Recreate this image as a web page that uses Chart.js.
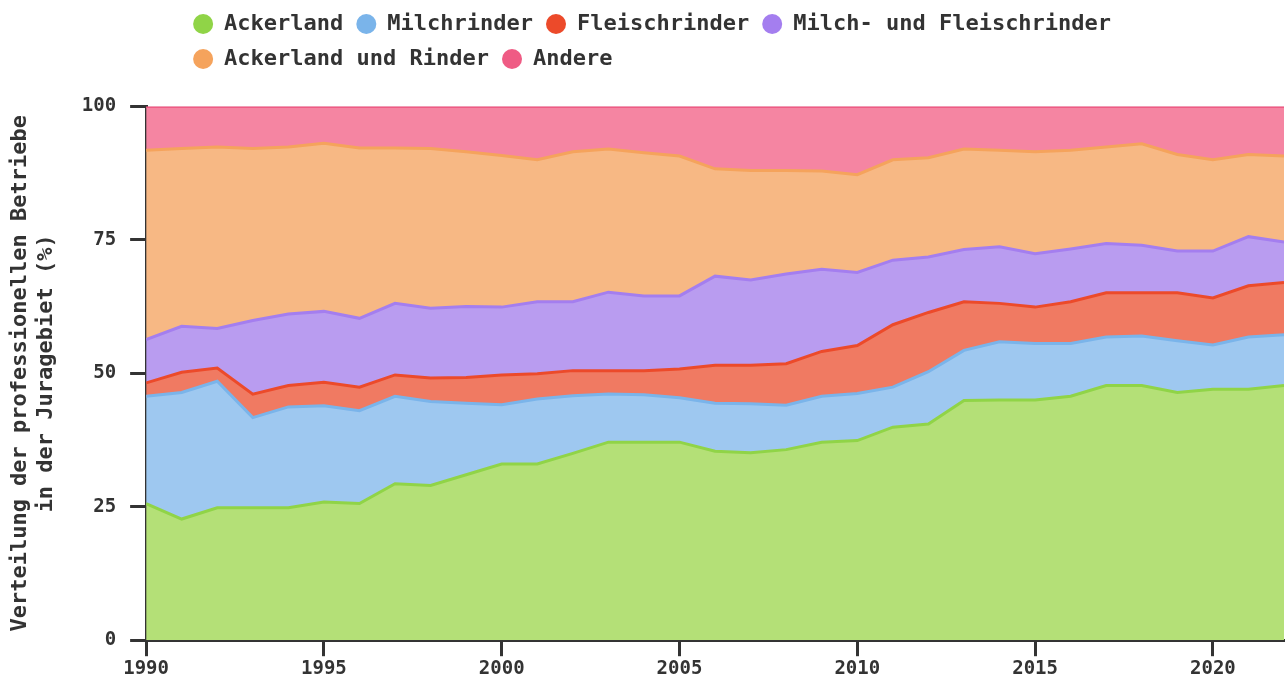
<!DOCTYPE html>
<html>
<head>
<meta charset="utf-8">
<script src="https://cdn.jsdelivr.net/npm/chart.js@4.4.1/dist/chart.umd.min.js"></script>
<style>
  html, body { margin: 0; padding: 0; background: #fff; }
  #wrap { width: 1287px; height: 681px; }
</style>
</head>
<body>
<div id="wrap"><canvas id="chart"></canvas></div>
<script>
// Anteile der Betriebstypen (%), 1990 - 2022
var years = [1990, 1991, 1992, 1993, 1994, 1995, 1996, 1997, 1998, 1999,
             2000, 2001, 2002, 2003, 2004, 2005, 2006, 2007, 2008, 2009,
             2010, 2011, 2012, 2013, 2014, 2015, 2016, 2017, 2018, 2019,
             2020, 2021, 2022];
var ackerland = [25.6, 22.7, 24.8, 24.8, 24.8, 25.9, 25.6, 29.3, 29.0, 31.0,
                 33.0, 33.0, 35.0, 37.1, 37.1, 37.1, 35.4, 35.1, 35.7, 37.1,
                 37.4, 39.9, 40.5, 44.9, 45.0, 45.0, 45.7, 47.7, 47.7, 46.4,
                 47.0, 47.0, 47.7];
var milchrinder = [20.1, 23.7, 23.7, 16.9, 18.9, 18.0, 17.4, 16.4, 15.7, 13.4,
                   11.1, 12.2, 10.8, 9.0, 8.9, 8.3, 9.0, 9.2, 8.3, 8.6,
                   8.8, 7.5, 9.8, 9.4, 10.9, 10.6, 9.9, 9.1, 9.3, 9.7,
                   8.3, 9.8, 9.5];
var fleischrinder = [2.5, 3.8, 2.5, 4.4, 4.0, 4.4, 4.4, 4.0, 4.4, 4.8,
                     5.6, 4.7, 4.7, 4.4, 4.5, 5.4, 7.1, 7.2, 7.8, 8.4,
                     9.0, 11.7, 11.1, 9.1, 7.2, 6.8, 7.8, 8.3, 8.1, 9.0,
                     8.8, 9.6, 9.8];
var milchFleisch = [8.1, 8.6, 7.4, 13.8, 13.4, 13.3, 12.9, 13.4, 13.1, 13.3,
                    12.7, 13.5, 12.9, 14.7, 14.0, 13.7, 16.7, 16.0, 16.8, 15.4,
                    13.7, 12.1, 10.4, 9.8, 10.6, 10.0, 9.9, 9.2, 8.9, 7.8,
                    8.8, 9.2, 7.6];
var ackerRinder = [35.5, 33.3, 34.0, 32.2, 31.3, 31.5, 31.9, 29.1, 29.9, 29.0,
                   28.4, 26.6, 28.1, 26.8, 26.8, 26.2, 20.1, 20.5, 19.4, 18.4,
                   18.3, 18.8, 18.6, 18.8, 18.1, 19.1, 18.5, 18.1, 19.0, 18.1,
                   17.1, 15.4, 16.1];
var andere = [8.2, 7.9, 7.6, 7.9, 7.6, 6.9, 7.8, 7.8, 7.9, 8.5,
              9.2, 10.0, 8.5, 8.0, 8.7, 9.3, 11.7, 12.0, 12.0, 12.1,
              12.8, 10.0, 9.6, 8.0, 8.2, 8.5, 8.2, 7.6, 7.0, 9.0,
              10.0, 9.0, 9.3];

var labels = ['Ackerland', 'Milchrinder', 'Fleischrinder', 'Milch- und Fleischrinder',
              'Ackerland und Rinder', 'Andere'];
var series = [ackerland, milchrinder, fleischrinder, milchFleisch, ackerRinder, andere];
var lineColors = ['#90d447', '#7ab4ea', '#ec4a2a', '#a47eef', '#f5a35c', '#ef5b84'];
var fillColors = ['#b4e077', '#9ec8f0', '#f07a62', '#b99cf0', '#f7b884', '#f585a2'];

var mono = "'DejaVu Sans Mono', monospace";
var ink = '#333';

function toPoints(arr) {
    var pts = [];
    for (var i = 0; i < years.length; i++) {
        pts.push({ x: years[i], y: arr[i] });
    }
    return pts;
}

var datasets = [];
for (var i = 0; i < series.length; i++) {
    datasets.push({
        label: labels[i],
        data: toPoints(series[i]),
        borderColor: lineColors[i],
        backgroundColor: fillColors[i],
        borderWidth: 3,
        pointRadius: 0,
        tension: 0,
        fill: i === 0 ? 'origin' : '-1'
    });
}

// legend rows start a bit further right than the plot area
var legendShift = {
    id: 'legendShift',
    afterLayout: function(c) {
        c.legend.left += 34;
    }
};

var ctx = document.getElementById('chart').getContext('2d');
var chart = new Chart(ctx, {
    type: 'line',
    data: { datasets: datasets },
    plugins: [legendShift],
    options: {
        responsive: true,
        maintainAspectRatio: false,
        animation: false,
        layout: { padding: { left: 3, right: 3, top: 0, bottom: 0 } },
        plugins: {
            tooltip: { enabled: false },
            // empty title only used as a gap between legend and plot
            title: {
                display: true,
                text: '',
                weight: 500,
                padding: 0,
                font: { family: mono, size: 22 }
            },
            legend: {
                position: 'top',
                align: 'start',
                fullSize: false,
                labels: {
                    usePointStyle: true,
                    pointStyle: 'circle',
                    pointStyleWidth: 20,
                    boxHeight: 14,
                    padding: 13,
                    color: ink,
                    font: { family: mono, size: 22, weight: 'bold' },
                    generateLabels: function(c) {
                        var items = Chart.defaults.plugins.legend.labels.generateLabels(c);
                        items.forEach(function(it) {
                            it.fillStyle = lineColors[it.datasetIndex];
                            it.strokeStyle = lineColors[it.datasetIndex];
                            it.lineWidth = 0;
                        });
                        return items;
                    }
                }
            }
        },
        scales: {
            x: {
                type: 'linear',
                min: 1990,
                max: 2022,
                border: { display: true, color: ink, width: 3 },
                grid: {
                    drawOnChartArea: false,
                    drawTicks: true,
                    tickLength: 16,
                    tickColor: ink,
                    tickWidth: 3
                },
                ticks: {
                    stepSize: 5,
                    includeBounds: false,
                    padding: 1,
                    color: ink,
                    font: { family: mono, size: 19, weight: 'bold' },
                    callback: function(v) { return String(v); }
                }
            },
            y: {
                stacked: true,
                min: 0,
                max: 100,
                z: 1,
                border: { display: true, color: ink, width: 3 },
                grid: {
                    color: 'rgba(0,0,0,0.06)',
                    lineWidth: 1,
                    tickLength: 16,
                    tickColor: ink,
                    tickWidth: 3
                },
                ticks: {
                    stepSize: 25,
                    padding: 14,
                    color: ink,
                    font: { family: mono, size: 19, weight: 'bold' }
                },
                title: {
                    display: true,
                    text: ['Verteilung der professionellen Betriebe', 'in der Juragebiet (%)'],
                    color: ink,
                    padding: { top: 4, bottom: 8 },
                    font: { family: mono, size: 22, weight: 'bold' }
                }
            }
        }
    }
});
</script>
</body>
</html>
